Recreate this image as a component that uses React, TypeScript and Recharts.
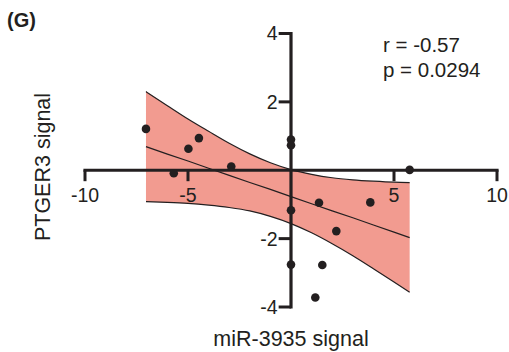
import { ComposedChart, Area, Line, Scatter, XAxis, YAxis, ZAxis, ReferenceLine } from "recharts";

// scatter points (miR-3935 vs PTGER3)
const pointX = [-7.04, -5.69, -4.98, -4.47, -2.9, 0, 0, 0, 0, 1.18, 1.36, 1.52, 2.2, 3.85, 5.76];
const pointY = [1.21, -0.09, 0.63, 0.94, 0.11, 0.9, 0.73, -1.17, -2.76, -3.72, -0.95, -2.77, -1.78, -0.94, 0.01];

// fit line + 95% band
const bandX = [-7.04, -6, -5, -4, -3, -2, -1, 0, 1, 2, 3, 4, 5, 5.76];
const bandUpper = [2.3, 1.89, 1.5, 1.14, 0.79, 0.48, 0.22, 0.02, -0.12, -0.22, -0.28, -0.32, -0.35, -0.36];
const bandLower = [-0.92, -0.94, -0.97, -1.02, -1.09, -1.19, -1.35, -1.56, -1.83, -2.15, -2.5, -2.88, -3.27, -3.57];
const fitY = [0.69, 0.47, 0.27, 0.06, -0.15, -0.36, -0.56, -0.77, -0.98, -1.19, -1.39, -1.6, -1.81, -1.97];

const xTicks = [-10, -5, 5, 10];
const yTicks = [-4, -2, 2, 4];

const points = pointX.map((x, i) => ({ x, y: pointY[i] }));
const band = bandX.map((x, i) => ({ x, range: [bandLower[i], bandUpper[i]], fit: fitY[i] }));

const FONT = "'Liberation Sans', Arial, Helvetica, sans-serif";
const INK = "#231f20";

export default function App() {
  return (
    <div style={{ position: "absolute", left: 0, top: 0, width: 509, height: 352, background: "#fff" }}>
      <ComposedChart width={509} height={352} data={band} margin={{ top: 33.5, right: 12, bottom: 45, left: 85 }}>
        <XAxis dataKey="x" type="number" domain={[-10, 10]} hide />
        <YAxis type="number" domain={[-4, 4]} hide />
        <ZAxis range={[58, 58]} />
        <Area
          dataKey="range"
          type="monotone"
          fill="#f29b90"
          fillOpacity={1}
          stroke={INK}
          strokeWidth={1.2}
          isAnimationActive={false}
          activeDot={false}
        />
        <Line dataKey="fit" type="linear" stroke={INK} strokeWidth={1.2} dot={false} activeDot={false} isAnimationActive={false} />
        <ReferenceLine y={0} stroke={INK} strokeWidth={3.2} strokeLinecap="square" />
        <ReferenceLine x={0} stroke={INK} strokeWidth={3.2} strokeLinecap="square" />
        {xTicks.map((t) => (
          <ReferenceLine
            key={"xt" + t}
            segment={[{ x: t, y: 0 }, { x: t, y: -0.32 }]}
            stroke={INK}
            strokeWidth={3}
            label={{ value: String(t), position: "bottom", offset: 7, fill: INK, fontSize: 19.5, fontFamily: FONT }}
          />
        ))}
        {yTicks.map((t) => (
          <ReferenceLine
            key={"yt" + t}
            segment={[{ x: -0.6, y: t }, { x: 0, y: t }]}
            stroke={INK}
            strokeWidth={3}
            label={{ value: String(t), position: "left", offset: 1, fill: INK, fontSize: 19.5, fontFamily: FONT }}
          />
        ))}
        <Scatter data={points} dataKey="y" fill={INK} isAnimationActive={false} />
      </ComposedChart>
      <svg width={509} height={352} style={{ position: "absolute", left: 0, top: 0, pointerEvents: "none" }} fontFamily={FONT} fill={INK}>
        <text x={7} y={27} fontSize={20} fontWeight="bold">(G)</text>
        <text x={383} y={52} fontSize={20.5}>r = -0.57</text>
        <text x={383} y={77} fontSize={20.5}>p = 0.0294</text>
        <text x={291} y={346} fontSize={21.5} textAnchor="middle">miR-3935 signal</text>
        <text x={50} y={167} fontSize={21.5} textAnchor="middle" transform="rotate(-90 50 167)">PTGER3 signal</text>
      </svg>
    </div>
  );
}
